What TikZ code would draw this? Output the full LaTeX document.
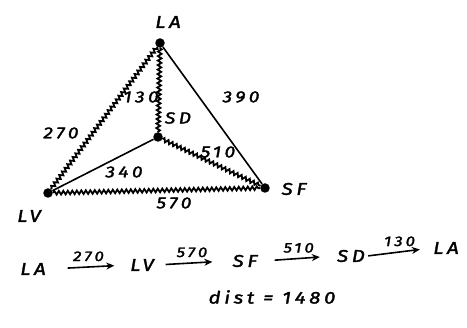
\documentclass[tikz,border=0pt]{standalone}
\usepackage{fontspec}
\setmainfont{Fira Sans}[LetterSpace=22,FakeStretch=1.2,FakeBold=2]
\usetikzlibrary{decorations.pathmorphing,arrows.meta}
\begin{document}
\begin{tikzpicture}[x=1pt,y=1pt,
  city/.style={circle,fill=black,inner sep=0pt,minimum size=9.5pt},
  lbl/.style={font=\fontsize{17}{17}\selectfont\itshape,inner sep=0pt},
  elbl/.style={font=\fontsize{16}{16}\selectfont\itshape,inner sep=0pt},
  tour/.style={line width=1.8pt,decorate,decoration={snake,amplitude=1.8pt,segment length=4.5pt}},
  plain/.style={line width=1.6pt},
  word/.style={font=\fontsize{17}{17}\selectfont\itshape,inner sep=0pt},
  alab/.style={font=\fontsize{14}{14}\selectfont\itshape,inner sep=0pt,above=5pt},
  arr/.style={line width=1.6pt,-{Stealth[length=8pt,width=7pt]}}]
\useasboundingbox (0,0) rectangle (467,-328);
% cities
\node[city] (LA) at (160,-43) {};
\node[city] (SD) at (158,-137) {};
\node[city] (LV) at (48,-193) {};
\node[city] (SF) at (265,-188) {};
\node[lbl] (tLA) at (168,-22) {LA};
\node[lbl] (tLV) at (29,-216) {LV};
\node[lbl] (tSF) at (294,-189) {SF};
\node[elbl] (tSD) at (178,-118) {SD};
% edges
\draw[tour] (LA) -- (LV);
\draw[tour] (LA) -- (SD);
\draw[tour] (SD) -- (SF);
\draw[tour] (LV) -- (SF);
\draw[plain] (LA) -- (SF);
\draw[plain] (SD) -- (LV);
% edge labels
\node[elbl] (e390) at (241,-97) {390};
\node[elbl] (e130) at (141,-97) {130};
\node[elbl] (e270) at (61,-133) {270};
\node[elbl] (e510) at (218,-152) {510};
\node[elbl] (e340) at (124,-172) {340};
\node[elbl] (e570) at (174,-203) {570};
% tour line
\node[word,minimum width=33pt] (w1) at (33,-269) {LA};
\node[word,minimum width=29pt] (w2) at (142,-265) {LV};
\node[word,minimum width=35pt] (w3) at (245,-261) {SF};
\node[word,minimum width=32pt] (w4) at (351,-256) {SD};
\node[word,minimum width=28pt] (w5) at (446,-248) {LA};
\draw[arr,shorten <=18pt,shorten >=13pt] (w1.east) -- (w2.west) node[midway,alab] {270};
\draw[arr,shorten <=9pt,shorten >=15pt] (w2.east) -- (w3.west) node[midway,alab] {570};
\draw[arr,shorten <=12pt,shorten >=15pt] (w3.east) -- (w4.west) node[midway,alab] {510};
\draw[arr,shorten <=1pt,shorten >=12pt] (w4.east) -- (w5.west) node[midway,alab] {130};
\node[word] (dist) at (272,-297) {dist = 1480};
\end{tikzpicture}
\end{document}
